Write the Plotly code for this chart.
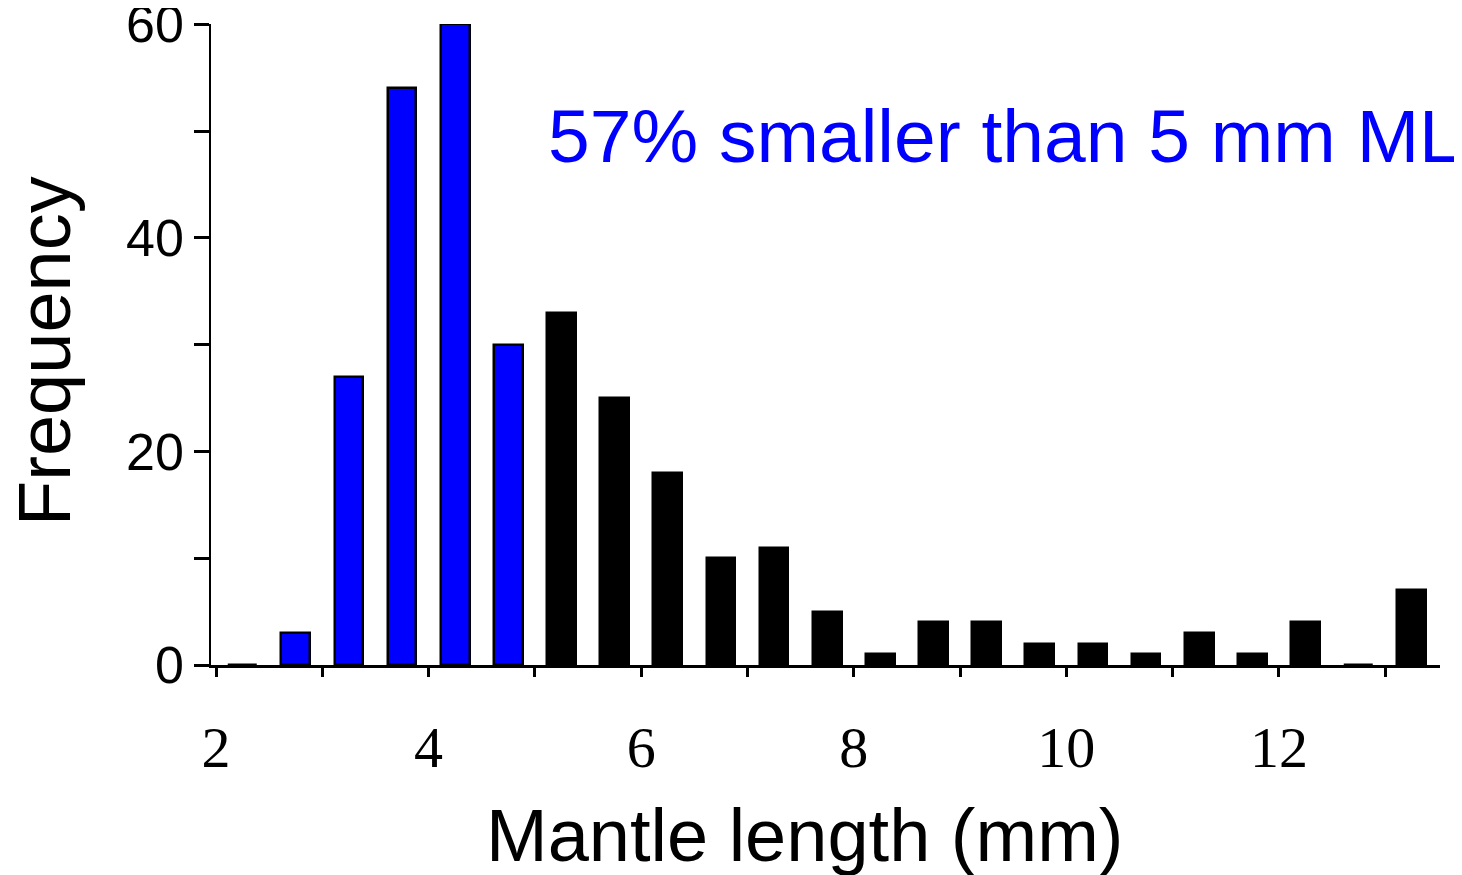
import plotly.graph_objects as go

# Bin centres (mm) and counts
bin_centers = [2.25, 2.75, 3.25, 3.75, 4.25, 4.75, 5.25, 5.75, 6.25, 6.75, 7.25, 7.75,
               8.25, 8.75, 9.25, 9.75, 10.25, 10.75, 11.25, 11.75, 12.25, 12.75, 13.25]
counts = [0, 3, 27, 54, 60, 30, 33, 25, 18, 10, 11, 5,
          1, 4, 4, 2, 2, 1, 3, 1, 4, 0, 7]
threshold = 5.0
x_tick_vals = [2, 3, 4, 5, 6, 7, 8, 9, 10, 11, 12, 13]
x_tick_text = ["2", "", "4", "", "6", "", "8", "", "10", "", "12", ""]
y_tick_vals = [0, 10, 20, 30, 40, 50, 60]
y_tick_text = ["0", "", "20", "", "40", "", "60"]
note_text = "57% smaller than 5 mm ML"
x_title = "Mantle length (mm)"
y_title = "Frequency"

colors = ["#0000FF" if c < threshold else "#000000" for c in bin_centers]

fig = go.Figure()
fig.add_trace(go.Bar(
    x=bin_centers, y=counts, width=0.27,
    marker=dict(color=colors, line=dict(color="#000000", width=2.5)),
    showlegend=False, hoverinfo="skip",
))

fig.update_layout(
    width=1454, height=867,
    margin=dict(l=203, r=22, t=16, b=210, autoexpand=False),
    paper_bgcolor="white", plot_bgcolor="white",
    font=dict(family="Liberation Sans, Arial, sans-serif", color="black"),
    xaxis=dict(
        range=[1.953, 13.515], tickmode="array", tickvals=x_tick_vals, ticktext=x_tick_text,
        ticks="outside", ticklen=9, tickwidth=2.5, tickcolor="black",
        showline=True, linecolor="black", linewidth=3, showgrid=False, zeroline=False,
        tickfont=dict(family="Liberation Serif, Times New Roman, serif", size=58, color="black"),
        ticklabelstandoff=20, automargin=False,
    ),
    yaxis=dict(
        range=[0, 60.02], tickmode="array", tickvals=y_tick_vals, ticktext=y_tick_text,
        ticks="outside", ticklen=15, tickwidth=2.5, tickcolor="black",
        showline=True, linecolor="black", linewidth=1.5, showgrid=False, zeroline=False,
        tickfont=dict(size=52, color="black"), automargin=False,
        ticklabeloverflow="allow",
    ),
    bargap=0,
)

fig.add_annotation(
    x=5.1, y=49.5, xref="x", yref="y", xanchor="left", yanchor="middle",
    text=note_text, showarrow=False,
    font=dict(size=75, color="#0000FF", family="Liberation Sans, Arial, sans-serif"),
)
fig.add_annotation(
    x=0.483, y=0.0, xref="paper", yref="paper", xanchor="center", yanchor="middle",
    yshift=-170, text=x_title, showarrow=False,
    font=dict(size=74, color="black"),
)
fig.add_annotation(
    x=0.0, y=0.49, xref="paper", yref="paper", xanchor="center", yanchor="middle",
    xshift=-166, text=y_title, showarrow=False, textangle=-90,
    font=dict(size=74, color="black"),
)

fig.write_html("out.html")
